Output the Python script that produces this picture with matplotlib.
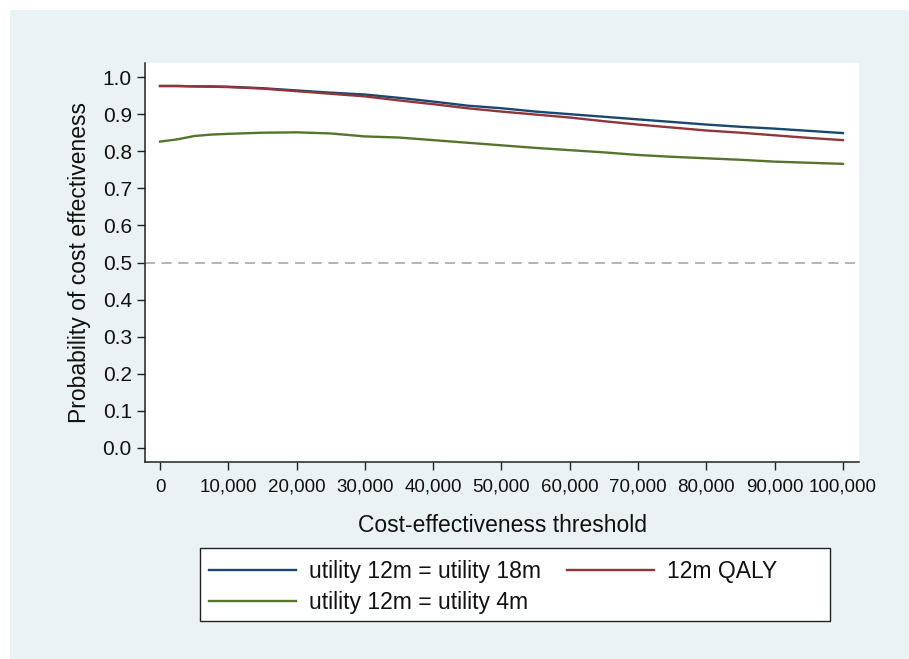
import matplotlib
matplotlib.use("Agg")
import matplotlib.pyplot as plt
from matplotlib.patches import Rectangle
from matplotlib.ticker import FuncFormatter

thresholds = [0, 2500, 5000, 7500, 10000, 15000, 20000, 25000, 30000, 35000, 40000,
              45000, 50000, 55000, 60000, 65000, 70000, 75000, 80000, 85000, 90000,
              95000, 100000]
util_18m = [0.976, 0.976, 0.975, 0.975, 0.974, 0.970, 0.964, 0.958, 0.953, 0.944, 0.934,
            0.923, 0.916, 0.907, 0.900, 0.893, 0.886, 0.879, 0.872, 0.866, 0.861,
            0.855, 0.849]
qaly_12m = [0.976, 0.976, 0.975, 0.974, 0.973, 0.969, 0.962, 0.955, 0.948, 0.937, 0.927,
            0.916, 0.907, 0.899, 0.891, 0.881, 0.872, 0.864, 0.856, 0.850, 0.843,
            0.836, 0.830]
util_4m = [0.826, 0.832, 0.841, 0.845, 0.847, 0.850, 0.851, 0.848, 0.840, 0.837, 0.830,
           0.823, 0.816, 0.809, 0.803, 0.797, 0.790, 0.785, 0.781, 0.777, 0.772,
           0.769, 0.766]
labels = ["utility 12m = utility 18m", "12m QALY", "utility 12m = utility 4m"]
x_ticks = list(range(0, 100001, 10000))
y_ticks = [i / 10 for i in range(0, 11)]
ref_level = 0.5

plt.rcParams['font.family'] = ['Liberation Sans', 'DejaVu Sans']

W, H = 909, 659
fig = plt.figure(figsize=(W / 100, H / 100), dpi=100)
fig.patch.set_facecolor('white')
fig.patches.append(Rectangle((10 / W, 0), 1, (H - 10) / H, transform=fig.transFigure,
                             facecolor='#EAF2F3', edgecolor='none', zorder=-10))

ax = fig.add_axes([145 / W, 1 - 462 / H, (859 - 145) / W, (462 - 63) / H])
ax.set_facecolor('white')

l1, = ax.plot(thresholds, util_18m, color='#1A476F', lw=1.7)
l2, = ax.plot(thresholds, qaly_12m, color='#90353B', lw=1.7)
l3, = ax.plot(thresholds, util_4m, color='#55752F', lw=1.7)
ax.axhline(ref_level, color='#A8A8A8', lw=1.2, dashes=(6, 4))

ax.set_xlim(-2200, 102350)
ax.set_ylim(-0.038, 1.038)
ax.set_xticks(x_ticks)
ax.set_yticks(y_ticks)
ax.xaxis.set_major_formatter(FuncFormatter(lambda v, p: f"{int(v):,}"))
ax.yaxis.set_major_formatter(FuncFormatter(lambda v, p: f"{v:.1f}"))
ax.tick_params(axis='both', length=6, width=1, color='#222222', labelcolor='#111111')
ax.tick_params(axis='y', pad=3.5, labelsize=15)
ax.tick_params(axis='x', pad=6, labelsize=13.5)
for s in ['top', 'right']:
    ax.spines[s].set_visible(False)
for s in ['left', 'bottom']:
    ax.spines[s].set_color('#222222')
    ax.spines[s].set_linewidth(1.1)

ax.set_xlabel("Cost-effectiveness threshold", fontsize=16.5, color='#111111', labelpad=13)
ax.set_ylabel("Probability of cost effectiveness", fontsize=16.5, color='#111111', labelpad=8)

# legend box
fig.patches.append(Rectangle((200 / W, 1 - 621 / H), 630 / W, 73 / H, transform=fig.transFigure,
                             facecolor='white', edgecolor='#222222', lw=1.0, zorder=1))
leg = fig.legend([l1, l3, l2], [labels[0], labels[2], labels[1]], ncol=2, frameon=False,
                 loc='upper left', bbox_to_anchor=(209 / W, 1 - 560 / H), fontsize=16.5,
                 handlelength=3.8, handletextpad=0.57, columnspacing=1.13, labelspacing=0.36,
                 borderaxespad=0, borderpad=0)
for t in leg.get_texts():
    t.set_color('#111111')
leg.set_zorder(5)

fig.savefig("out.png", dpi=100, facecolor=fig.get_facecolor())
